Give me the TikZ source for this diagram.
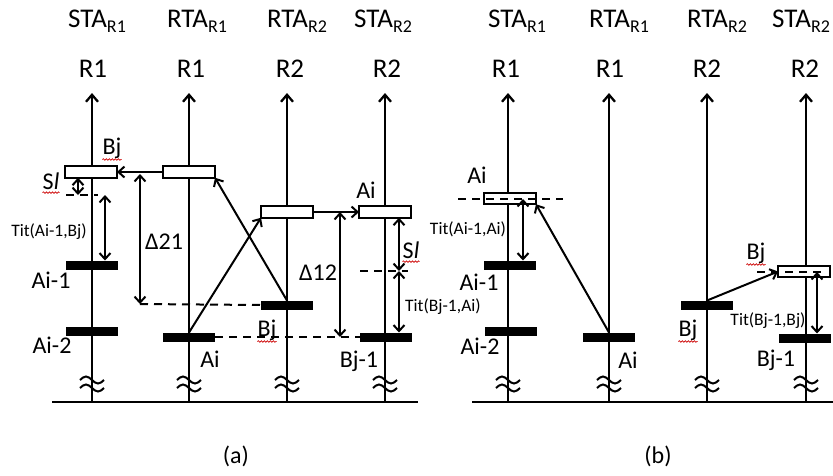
\documentclass[tikz,border=0pt]{standalone}
\usepackage{fontspec}
\setmainfont{Carlito}
\usetikzlibrary{arrows.meta,decorations.pathmorphing}
\newcommand\mysub[1]{\raisebox{-5pt}{\fontsize{18}{18}\selectfont #1}}
\begin{document}
\begin{tikzpicture}[x=1pt,y=-1pt,
  colline/.style={line width=2.3pt,-{Straight Barb[length=7pt,width=12pt]}},
  hollow/.style={draw,fill=white,line width=2pt,minimum width=52pt,minimum height=11.5pt,inner sep=0pt,outer sep=0pt},
  solidbar/.style={fill=black,minimum width=52pt,minimum height=9pt,inner sep=0pt,outer sep=0pt},
  hdr/.style={font=\fontsize{27}{31}\selectfont,inner sep=0pt,anchor=base},
  lbl/.style={font=\fontsize{24}{28}\selectfont,inner sep=0pt},
  tit/.style={font=\fontsize{17.5}{20}\selectfont,inner sep=0pt},
  conn/.style={line width=2pt,-{Straight Barb[length=6pt,width=11pt]}},
  dimarrow/.style={line width=2pt,{Straight Barb[length=6pt,width=11pt]}-{Straight Barb[length=6pt,width=11pt]}},
  dashln/.style={line width=2pt,dash pattern=on 8pt off 6pt},
  squig/.style={red!80!black,line width=0.7pt,decorate,decoration={snake,amplitude=0.8pt,segment length=3pt}},
  basel/.style={line width=2.3pt},
  wave/.style={line width=2pt}
]
\useasboundingbox (0,0) rectangle (833,475);

% columns
\foreach \n/\x in {a1/92,a2/189,a3/287,a4/385,b1/508,b2/609,b3/707,b4/806}{
  \coordinate (\n bot) at (\x,402);
  \coordinate (\n top) at (\x,93);
  \coordinate (\n wav) at (\x,383);
}
\foreach \n in {a1,a2,a3,a4,b1,b2,b3,b4}{
  \draw[colline] (\n bot) -- (\n top);
  \draw[wave] (\n wav) ++(-12,-3) sin ++(6,-3.5) cos ++(6,3.5) sin ++(6,3.5) cos ++(6,-3.5);
  \draw[wave] (\n wav) ++(-12,5) sin ++(6,-3.5) cos ++(6,3.5) sin ++(6,3.5) cos ++(6,-3.5);
}
% baselines
\coordinate (aL) at (52,402); \coordinate (aR) at (418,402);
\coordinate (bL) at (472,402); \coordinate (bR) at (833,402);
\draw[basel] (aL) -- (aR);
\draw[basel] (bL) -- (bR);

% headers
\node[hdr] (hA1) at (97,27) {STA\mysub{R1}};
\node[hdr] (hA2) at (197,27) {RTA\mysub{R1}};
\node[hdr] (hA3) at (297,27) {RTA\mysub{R2}};
\node[hdr] (hA4) at (383,27) {STA\mysub{R2}};
\node[hdr] (hB1) at (517,27) {STA\mysub{R1}};
\node[hdr] (hB2) at (619,27) {RTA\mysub{R1}};
\node[hdr] (hB3) at (717,27) {RTA\mysub{R2}};
\node[hdr,anchor=base west] (hB4) at (772,27) {STA\mysub{R2}};
\node[hdr] (rA1) at (93,77) {R1};
\node[hdr] (rA2) at (191,77) {R1};
\node[hdr] (rA3) at (290,77) {R2};
\node[hdr] (rA4) at (387,77) {R2};
\node[hdr] (rB1) at (506,77) {R1};
\node[hdr] (rB2) at (610,77) {R1};
\node[hdr] (rB3) at (707,77) {R2};
\node[hdr] (rB4) at (805,77) {R2};

% ---------------- panel (a)
\node[hollow] (boxa1) at (91,172) {};
\node[hollow] (boxa2) at (189,172) {};
\node[hollow] (boxa3) at (287,212) {};
\node[hollow] (boxa4) at (385,212) {};
\node[solidbar] (bara1) at (92,265) {};
\node[solidbar] (bara1b) at (92,331) {};
\node[solidbar] (bara2) at (189,337) {};
\node[solidbar] (bara3) at (287,305) {};
\node[solidbar] (bara4) at (386,337) {};

\draw[conn] (boxa2.west) -- (boxa1.east);
\draw[conn] (bara2.north) -- (boxa3.south west);
\draw[conn] (bara3.north) -- (boxa2.south east);
\draw[conn] (boxa3.east) -- (boxa4.west);

\coordinate (d21t) at (140,174); \coordinate (d21b) at (140,304);
\draw[dimarrow] (d21t) -- (d21b);
\draw[dashln] (d21b) -- (bara3.west);
\node[lbl] (lda) at (164,242) {Δ21};

\coordinate (d12t) at (340,212); \coordinate (d12b) at (340,337);
\draw[dimarrow] (d12t) -- (d12b);
\draw[dashln] (bara2.east) -- (bara4.west);
\node[lbl] (ldb) at (318,273) {Δ12};

\coordinate (sla) at (78,195); \coordinate (tita) at (105,195);
\coordinate (dla1) at (66,195); \coordinate (dla2) at (98,195);
\draw[dashln] (dla1) -- (dla2);
\draw[dimarrow] (sla |- boxa1.south) -- (sla);
\draw[dimarrow] (tita) -- (tita |- bara1.north);
\node[lbl] (sl1) at (51,181) {S\textit{l}};
\draw[squig] ([yshift=-3pt]sl1.south west) -- ([yshift=-3pt]sl1.south east);
\node[tit] (tt1) at (49,232) {Tit(Ai-1,Bj)};

\coordinate (slb) at (399,271);
\coordinate (dlb1) at (360,271); \coordinate (dlb2) at (408,271);
\draw[dashln] (dlb1) -- (dlb2);
\draw[dimarrow] (slb |- boxa4.south) -- (slb);
\draw[dimarrow] (slb) -- (slb |- bara4.north);
\node[lbl] (sl2) at (411,250) {S\textit{l}};
\draw[squig] ([yshift=-3pt]sl2.south west) -- ([yshift=-3pt]sl2.south east);
\node[tit] (tt2) at (443,307) {Tit(Bj-1,Ai)};

\node[lbl] (la1) at (112,148) {Bj};
\draw[squig] ([yshift=-1pt]la1.south west) -- ([yshift=-1pt]la1.south east);
\node[lbl] (la2) at (51,280) {Ai-1};
\node[lbl] (la3) at (52,345) {Ai-2};
\node[lbl] (la4) at (210,359) {Ai};
\node[lbl] (la5) at (267,330) {Bj};
\draw[squig] ([yshift=-1pt]la5.south west) -- ([yshift=-1pt]la5.south east);
\node[lbl] (la6) at (366,190) {Ai};
\node[lbl] (la7) at (359,361) {Bj-1};
\node[lbl] (capa) at (236,456) {(a)};

% ---------------- panel (b)
\node[hollow] (boxb1) at (510,198.5) {};
\node[solidbar] (barb1) at (510,265) {};
\node[solidbar] (barb1b) at (511,331) {};
\node[solidbar] (barb2) at (609,337) {};
\node[solidbar] (barb3) at (707,305) {};
\node[hollow] (boxb4) at (804,271.5) {};
\node[solidbar] (barb4) at (805,338) {};

\coordinate (db1) at (458,199); \coordinate (db2) at (563,199);
\draw[dashln] (db1) -- (db2);
\coordinate (db3) at (757,271.5); \coordinate (db4) at (826,271.5);
\draw[dashln] (db3) -- (db4);

\draw[conn] (barb2.north) -- (boxb1.south east);
\draw[conn] (barb3.north) -- (boxb4.west);

\coordinate (titb1) at (523,199);
\draw[dimarrow] (titb1) -- (titb1 |- barb1.north);
\coordinate (titb2) at (817,272);
\draw[dimarrow] (titb2) -- (titb2 |- barb4.north);

\node[lbl] (lb1) at (477,175) {Ai};
\node[tit] (tt3) at (468,229) {Tit(Ai-1,Ai)};
\node[lbl] (lb2) at (479,282) {Ai-1};
\node[lbl] (lb3) at (480,346) {Ai-2};
\node[lbl] (lb4) at (628,360) {Ai};
\node[lbl] (lb5) at (688,330) {Bj};
\draw[squig] ([yshift=-1pt]lb5.south west) -- ([yshift=-1pt]lb5.south east);
\node[lbl] (lb6) at (756,253) {Bj};
\draw[squig] ([yshift=-1pt]lb6.south west) -- ([yshift=-1pt]lb6.south east);
\node[tit] (tt4) at (768,321) {Tit(Bj-1,Bj)};
\node[lbl] (lb7) at (776,360) {Bj-1};
\node[lbl] (capb) at (658,456) {(b)};
\end{tikzpicture}
\end{document}
